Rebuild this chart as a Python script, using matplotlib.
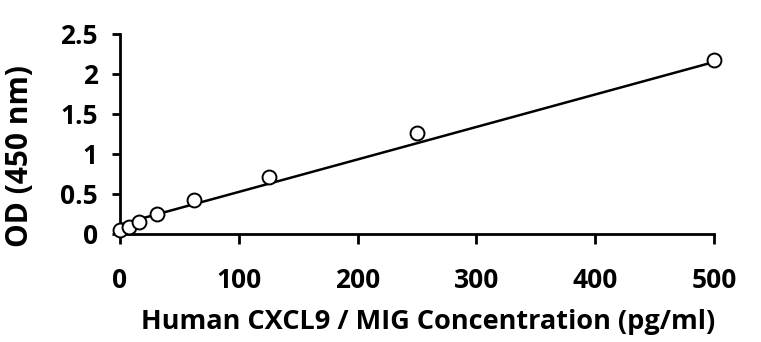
import numpy as np
import matplotlib
matplotlib.use("Agg")
import matplotlib.pyplot as plt

plt.rcParams['font.family'] = ['Open Sans', 'DejaVu Sans']

conc = [0, 7.8, 15.6, 31.25, 62.5, 125, 250, 500]
od = [0.05, 0.09, 0.146, 0.246, 0.425, 0.71, 1.26, 2.17]
# standard-curve line
fit_slope = 0.00406
fit_intercept = 0.12
xticks = [0, 100, 200, 300, 400, 500]
yticks = [0, 0.5, 1, 1.5, 2, 2.5]
yticklabels = ['0', '0.5', '1', '1.5', '2', '2.5']

fig = plt.figure(figsize=(7.61, 3.42), dpi=100)
ax = fig.add_axes([120/761, 1-234/342, 594/761, 200/342])

xs = np.array([min(conc), max(conc)])
ax.plot(xs, fit_slope*xs + fit_intercept, color='black', lw=1.8, zorder=2)
ax.plot(conc, od, 'o', mfc='white', mec='black', ms=10, mew=1.4, zorder=3)

ax.set_xlim(0, 500)
ax.set_ylim(0, 2.5)
ax.set_xticks(xticks)
ax.set_yticks(yticks)
ax.set_yticklabels(yticklabels)
for s in ['top', 'right']:
    ax.spines[s].set_visible(False)
for s in ['left', 'bottom']:
    ax.spines[s].set_linewidth(2)
    ax.spines[s].set_clip_on(False)
ax.tick_params(axis='both', direction='out', width=2, labelsize=19)
ax.tick_params(axis='x', pad=17, length=7)
ax.tick_params(axis='y', pad=10, length=6)
for lab in ax.get_xticklabels() + ax.get_yticklabels():
    lab.set_fontweight('bold')
ax.set_xlabel('Human CXCL9 / MIG Concentration (pg/ml)', fontsize=19.5, fontweight='bold', va='center')
ax.set_ylabel('OD (450 nm)', fontsize=21.5, fontweight='bold', va='center')
ax.xaxis.set_label_coords(0.518, -0.44)
ax.yaxis.set_label_coords(-0.168, 0.39)
for l in ax.lines:
    l.set_clip_on(False)

fig.savefig('out.png', dpi=100)
